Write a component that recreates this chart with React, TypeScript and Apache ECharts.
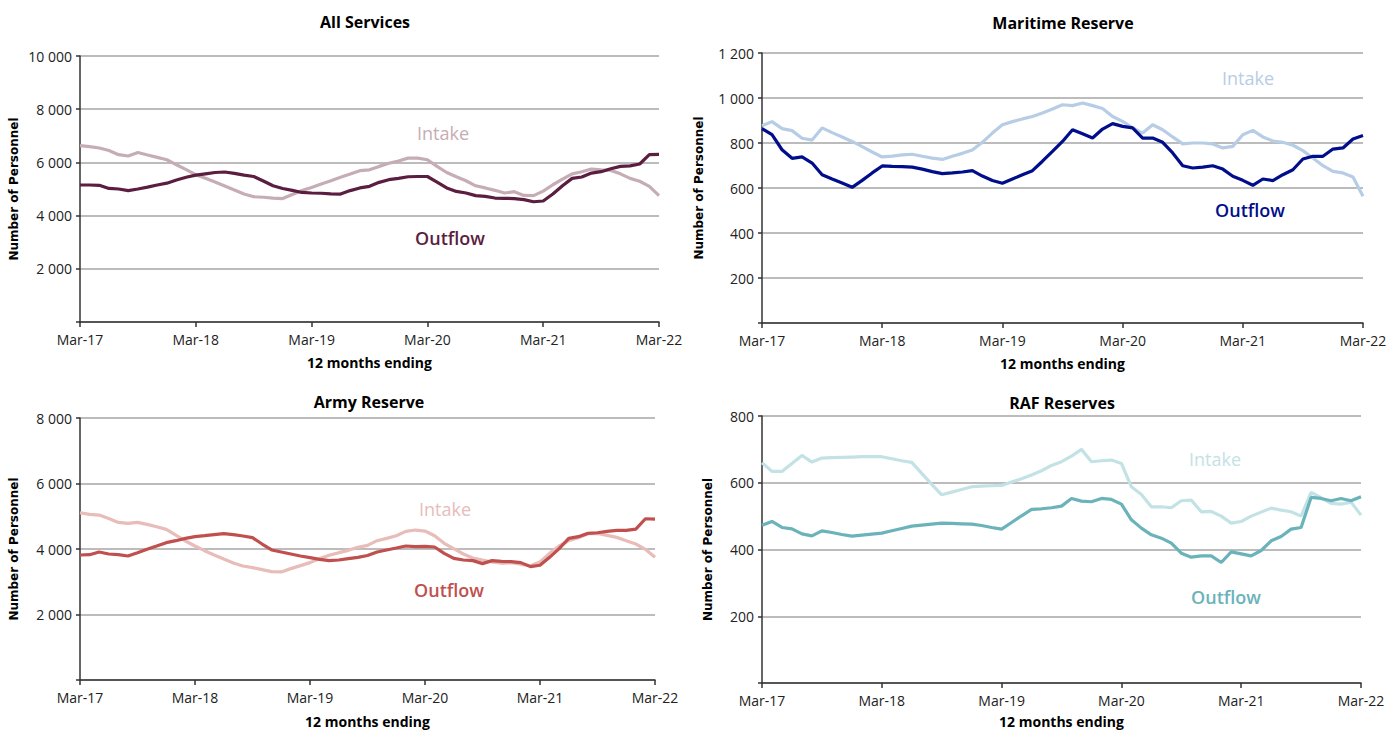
import React, { useEffect, useRef } from "react";
import * as echarts from "echarts";

const months = [
  "Mar-17","Apr-17","May-17","Jun-17","Jul-17","Aug-17","Sep-17","Oct-17","Nov-17","Dec-17","Jan-18","Feb-18",
  "Mar-18","Apr-18","May-18","Jun-18","Jul-18","Aug-18","Sep-18","Oct-18","Nov-18","Dec-18","Jan-19","Feb-19",
  "Mar-19","Apr-19","May-19","Jun-19","Jul-19","Aug-19","Sep-19","Oct-19","Nov-19","Dec-19","Jan-20","Feb-20",
  "Mar-20","Apr-20","May-20","Jun-20","Jul-20","Aug-20","Sep-20","Oct-20","Nov-20","Dec-20","Jan-21","Feb-21",
  "Mar-21","Apr-21","May-21","Jun-21","Jul-21","Aug-21","Sep-21","Oct-21","Nov-21","Dec-21","Jan-22","Feb-22",
  "Mar-22",
];

const allIntake = [
  6630, 6590, 6540, 6450, 6290, 6240, 6370, 6280, 6190, 6100,
  5910, 5730, 5540, 5400, 5260, 5110, 4960, 4810, 4710, 4690,
  4660, 4640, 4790, 4940, 5060, 5190, 5310, 5440, 5560, 5690,
  5720, 5850, 5970, 6050, 6160, 6160, 6100, 5850, 5620, 5460,
  5310, 5120, 5040, 4950, 4850, 4900, 4760, 4750, 4920, 5160,
  5370, 5570, 5650, 5750, 5720, 5700, 5570, 5400, 5290, 5100,
  4750,
];
const allOutflow = [
  5150, 5150, 5140, 5020, 5000, 4940, 5000, 5070, 5150, 5220,
  5340, 5440, 5520, 5570, 5620, 5640, 5590, 5520, 5470, 5300,
  5120, 5020, 4950, 4870, 4850, 4840, 4820, 4810, 4940, 5040,
  5100, 5250, 5350, 5400, 5460, 5470, 5470, 5260, 5040, 4910,
  4850, 4750, 4720, 4660, 4650, 4640, 4600, 4520, 4550, 4810,
  5120, 5400, 5450, 5600, 5650, 5760, 5850, 5870, 5940, 6290,
  6300,
];

const maritimeIntake = [
  877, 895, 864, 855, 821, 813, 867, 846, 827, 807,
  784, 760, 738, 742, 747, 750, 741, 733, 727, 741,
  754, 769, 803, 844, 881, 895, 907, 918, 933, 951,
  970, 966, 978, 966, 953, 918, 896, 867, 844, 881,
  859, 827, 796, 800, 800, 796, 778, 785, 837, 856,
  827, 809, 803, 790, 766, 733, 699, 674, 667, 649,
  563,
];
const maritimeOutflow = [
  864, 837, 770, 732, 738, 711, 659, 640, 622, 603,
  634, 667, 698, 696, 695, 693, 684, 673, 664, 667,
  671, 677, 653, 633, 621, 640, 659, 677, 719, 763,
  807, 859, 841, 822, 862, 886, 874, 867, 822, 822,
  803, 756, 699, 689, 693, 699, 684, 652, 634, 612,
  640, 633, 659, 681, 729, 741, 741, 773, 778, 818,
  833,
];

const armyIntake = [
  5106, 5056, 5035, 4934, 4812, 4782, 4812, 4751, 4680, 4599,
  4426, 4244, 4091, 3949, 3817, 3695, 3574, 3482, 3432, 3371,
  3310, 3300, 3401, 3492, 3584, 3706, 3807, 3888, 3959, 4051,
  4110, 4254, 4325, 4406, 4538, 4579, 4548, 4406, 4173, 4010,
  3848, 3726, 3665, 3604, 3564, 3584, 3533, 3492, 3604, 3868,
  4091, 4254, 4345, 4467, 4477, 4416, 4355, 4254, 4152, 3990,
  3746,
];
const armyOutflow = [
  3817, 3827, 3909, 3848, 3827, 3787, 3888, 3990, 4091, 4193,
  4254, 4325, 4376, 4406, 4437, 4467, 4437, 4396, 4345, 4152,
  3970, 3909, 3848, 3787, 3736, 3685, 3645, 3665, 3706, 3746,
  3800, 3909, 3970, 4030, 4091, 4071, 4081, 4061, 3868, 3716,
  3665, 3645, 3553, 3645, 3625, 3614, 3584, 3462, 3503, 3746,
  4010, 4325, 4376, 4477, 4497, 4538, 4568, 4568, 4609, 4924,
  4914,
];

const rafIntake = [
  660, 634, 634, 658, 682, 662, 674, 675, 676, 677,
  678, 678, 678, 672, 666, 661, 628, 595, 564, 572,
  580, 588, 590, 591, 592, 602, 612, 623, 636, 652,
  663, 680, 700, 663, 666, 668, 658, 588, 565, 528,
  528, 525, 546, 548, 513, 514, 500, 479, 484, 500,
  512, 524, 518, 513, 500, 571, 555, 538, 536, 542,
  503,
];
const rafOutflow = [
  473, 484, 466, 462, 447, 441, 456, 451, 445, 440,
  443, 446, 449, 456, 463, 470, 473, 476, 479, 478,
  477, 476, 472, 466, 461, 481, 501, 520, 522, 525,
  530, 553, 545, 543, 553, 550, 536, 489, 464, 444,
  434, 419, 389, 377, 381, 381, 361, 393, 387, 381,
  397, 426, 439, 461, 466, 556, 553, 546, 553, 546,
  558,
];

const titles = ["All Services", "Maritime Reserve", "Army Reserve", "RAF Reserves"];
const yMax = [10000, 1200, 8000, 800];
const yStep = [2000, 200, 2000, 200];
const seriesName = ["Intake", "Outflow"];

const FONT = "'Open Sans', 'Liberation Sans', sans-serif";

const panels = [
  {
    grid: { left: 80, top: 56, width: 579, height: 266 },
    intake: allIntake, outflow: allOutflow,
    cIn: "#c6adb5", cOut: "#5b1e40",
    title: { x: 365, y: 22 },
    inLbl: { x: 443, y: 133 }, outLbl: { x: 450, y: 238 },
    yGap: 60, xGap: 33,
  },
  {
    grid: { left: 762, top: 53, width: 601, height: 270 },
    intake: maritimeIntake, outflow: maritimeOutflow,
    cIn: "#b7cde6", cOut: "#000e8c",
    title: { x: 1063, y: 23 },
    inLbl: { x: 1248, y: 78 }, outLbl: { x: 1250, y: 210 },
    yGap: 57, xGap: 33,
  },
  {
    grid: { left: 80, top: 418, width: 575, height: 262 },
    intake: armyIntake, outflow: armyOutflow,
    cIn: "#e8bcb9", cOut: "#c0504d",
    title: { x: 369, y: 402 },
    inLbl: { x: 445, y: 509 }, outLbl: { x: 449, y: 590 },
    yGap: 60, xGap: 34,
  },
  {
    grid: { left: 762, top: 416, width: 599, height: 267 },
    intake: rafIntake, outflow: rafOutflow,
    cIn: "#c3e2e5", cOut: "#6bb3ba",
    title: { x: 1062, y: 403 },
    inLbl: { x: 1215, y: 459 }, outLbl: { x: 1226, y: 597 },
    yGap: 48, xGap: 31,
  },
];

const fmt = (v: number) =>
  v === 0 ? "" : String(v).replace(/\B(?=(\d{3})+(?!\d))/g, " ");

const showYear = (i: number) => i % 12 === 0;

function buildOption() {
  const grid: any[] = [];
  const xAxis: any[] = [];
  const yAxis: any[] = [];
  const series: any[] = [];
  const graphic: any[] = [];

  panels.forEach((p, k) => {
    grid.push({ ...p.grid, containLabel: false });
    xAxis.push({
      type: "category",
      gridIndex: k,
      data: months,
      boundaryGap: false,
      name: "12 months ending",
      nameLocation: "middle",
      nameGap: p.xGap,
      nameTextStyle: { fontFamily: FONT, fontWeight: "bold", fontSize: 14, color: "#000" },
      axisLine: { lineStyle: { color: "#333", width: 1.5 } },
      axisTick: { show: true, interval: (i: number) => showYear(i), length: 5, lineStyle: { color: "#333", width: 1.5 } },
      axisLabel: {
        interval: (i: number) => showYear(i),
        fontFamily: FONT,
        fontSize: 14,
        color: "#222",
        margin: 10,
      },
      splitLine: { show: false },
    });
    yAxis.push({
      type: "value",
      gridIndex: k,
      min: 0,
      max: yMax[k],
      interval: yStep[k],
      name: "Number of Personnel",
      nameLocation: "middle",
      nameGap: p.yGap,
      nameRotate: 90,
      nameTextStyle: { fontFamily: "'DejaVu Sans', sans-serif", fontWeight: "bold", fontSize: 12, color: "#000" },
      axisLine: { show: true, lineStyle: { color: "#333", width: 1.5 } },
      axisTick: { show: true, length: 4, lineStyle: { color: "#333", width: 1.5 } },
      axisLabel: { formatter: fmt, fontFamily: FONT, fontSize: 14, color: "#222", margin: 8 },
      splitLine: { show: true, lineStyle: { color: "#a6a6a6", width: 1.5 } },
    });
    series.push({
      type: "line",
      name: seriesName[0],
      xAxisIndex: k,
      yAxisIndex: k,
      data: p.intake,
      showSymbol: false,
      symbol: "none",
      lineStyle: { color: p.cIn, width: 3.2 },
      itemStyle: { color: p.cIn },
      z: 2,
    });
    series.push({
      type: "line",
      name: seriesName[1],
      xAxisIndex: k,
      yAxisIndex: k,
      data: p.outflow,
      showSymbol: false,
      symbol: "none",
      lineStyle: { color: p.cOut, width: 3.2 },
      itemStyle: { color: p.cOut },
      z: 3,
    });
    graphic.push({
      type: "text",
      x: p.title.x,
      y: p.title.y,
      style: {
        text: titles[k],
        fontFamily: FONT,
        fontWeight: "bold",
        fontSize: 16,
        fill: "#000",
        align: "center",
        verticalAlign: "middle",
      },
    });
    graphic.push({
      type: "text",
      x: p.inLbl.x,
      y: p.inLbl.y,
      style: {
        text: seriesName[0],
        fontFamily: FONT,
        fontSize: 18,
        fill: p.cIn,
        align: "center",
        verticalAlign: "middle",
      },
    });
    graphic.push({
      type: "text",
      x: p.outLbl.x,
      y: p.outLbl.y,
      style: {
        text: seriesName[1],
        fontFamily: FONT,
        fontSize: 18,
        fontWeight: 600,
        fill: p.cOut,
        align: "center",
        verticalAlign: "middle",
      },
    });
  });

  return {
    animation: false,
    backgroundColor: "#fff",
    grid,
    xAxis,
    yAxis,
    series,
    graphic,
  };
}

export default function App() {
  const ref = useRef<HTMLDivElement>(null);
  useEffect(() => {
    document.body.style.margin = "0";
    const chart = echarts.init(ref.current as HTMLDivElement, null, { renderer: "svg" });
    chart.setOption(buildOption() as any);
    return () => chart.dispose();
  }, []);
  return <div ref={ref} style={{ width: 1400, height: 736 }} />;
}
